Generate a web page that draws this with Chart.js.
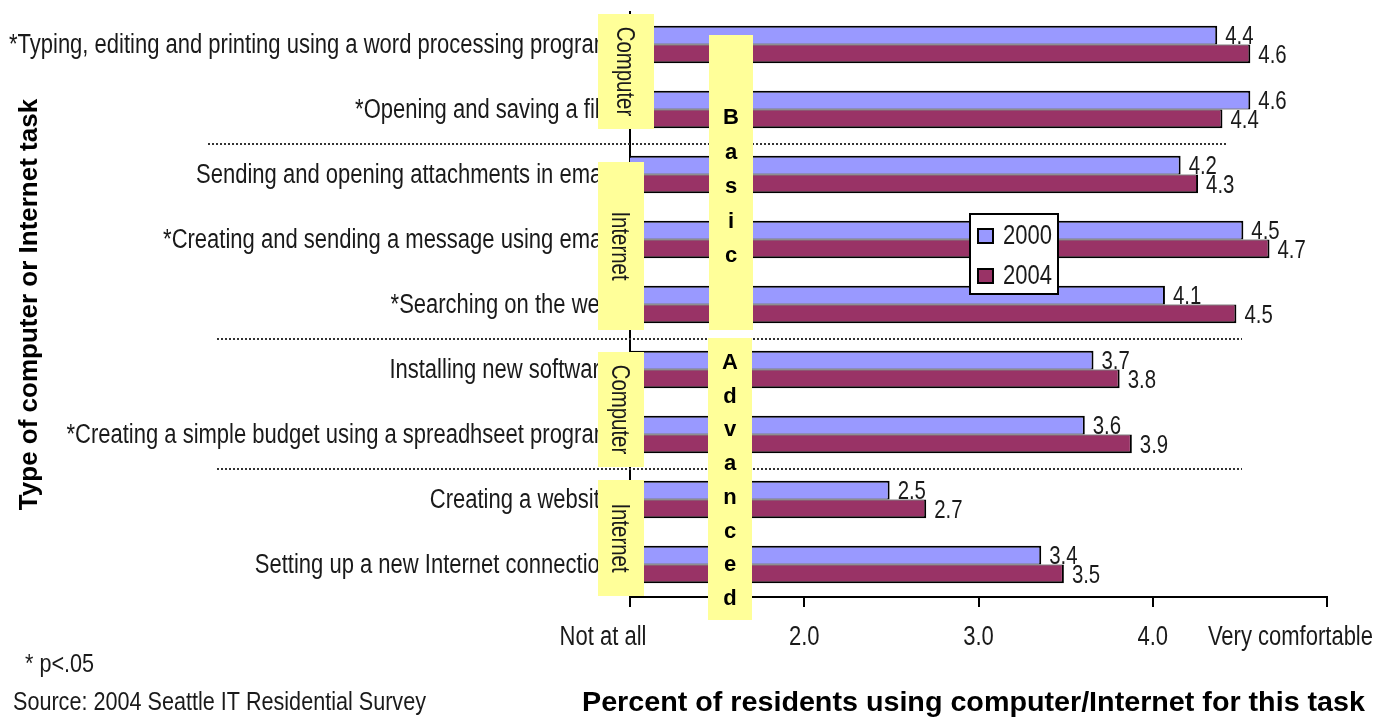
<!DOCTYPE html>
<html>
<head>
<meta charset="utf-8">
<script src="https://cdn.jsdelivr.net/npm/chart.js@4.4.1/dist/chart.umd.min.js"></script>
<style>
  html, body { margin: 0; padding: 0; background: #fff; }
  #wrap { width: 1385px; height: 717px; position: relative; }
</style>
</head>
<body>
<div id="wrap"><canvas id="taskChart"></canvas></div>
<script>
const tasks = [
    '*Typing, editing and printing using a word processing program',
    '*Opening and saving a file',
    'Sending and opening attachments in email',
    '*Creating and sending a message using email',
    '*Searching on the web',
    'Installing new software',
    '*Creating a simple budget using a spreadhseet program',
    'Creating a website',
    'Setting up a new Internet connection'
];
const years = ['2000', '2004'];
const scores2000 = [4.37, 4.56, 4.16, 4.52, 4.07, 3.66, 3.61, 2.49, 3.36];
const scores2004 = [4.56, 4.40, 4.26, 4.67, 4.48, 3.81, 3.88, 2.70, 3.49];
const tickLabels = ['Not at all', '2.0', '3.0', '4.0', 'Very comfortable'];
const xTitle = 'Percent of residents using computer/Internet for this task';

const FONT = '"Liberation Sans", Arial, sans-serif';
const TEXT = '#1a1a1a';
const SQUEEZE = 0.815; // no narrow face installed, so squeeze the regular one

function narrowText(ctx, text, x, y, size, align, rotate) {
    ctx.save();
    ctx.translate(x, y);
    if (rotate) ctx.rotate(rotate);
    ctx.scale(SQUEEZE, 1);
    ctx.font = size + 'px ' + FONT;
    ctx.fillStyle = TEXT;
    ctx.textAlign = align;
    ctx.textBaseline = 'middle';
    ctx.fillText(text, 0, 0);
    ctx.restore();
}

function drawSideLabel(ctx, text, x, y, w, h) {
    ctx.fillStyle = '#ffff99';
    ctx.fillRect(x, y, w, h);
    narrowText(ctx, text, x + w / 2 - 2, y + h / 2, 25, 'center', Math.PI / 2);
}

function drawStacked(ctx, text, x, y, w, h, firstY, step) {
    ctx.fillStyle = '#ffff99';
    ctx.fillRect(x, y, w, h);
    ctx.font = 'bold 22px ' + FONT;
    ctx.fillStyle = '#000';
    ctx.textAlign = 'center';
    ctx.textBaseline = 'middle';
    text.split('').forEach((c, i) => ctx.fillText(c, x + w / 2, firstY + i * step));
}

const overlay = {
    id: 'overlay',
    afterDatasetsDraw(chart) {
        const ctx = chart.ctx;
        const ys = chart.scales.y;
        ctx.save();

        // task labels
        chart.data.labels.forEach((t, i) => {
            narrowText(ctx, t, ys.right - 18, ys.getPixelForValue(i) + 1, 27, 'right');
        });

        // value labels
        chart.data.datasets.forEach((ds, i) => {
            chart.getDatasetMeta(i).data.forEach((bar, j) => {
                narrowText(ctx, ds.data[j].toFixed(1), bar.x + 8, bar.y + 2, 25, 'left');
            });
        });

        // dotted group separators
        ctx.strokeStyle = '#333';
        ctx.lineWidth = 2;
        ctx.setLineDash([2, 2]);
        [[1, 208, 1226], [4, 217, 1242], [6, 217, 1242]].forEach(s => {
            const yy = Math.round((ys.getPixelForValue(s[0]) + ys.getPixelForValue(s[0] + 1)) / 2) + 2;
            ctx.beginPath();
            ctx.moveTo(s[1], yy);
            ctx.lineTo(s[2], yy);
            ctx.stroke();
        });
        ctx.setLineDash([]);

        drawSideLabel(ctx, 'Computer', 598, 14, 56, 115);
        drawSideLabel(ctx, 'Internet', 598, 162, 46, 168);
        drawSideLabel(ctx, 'Computer', 598, 352, 46, 115);
        drawSideLabel(ctx, 'Internet', 598, 480, 46, 116);
        drawStacked(ctx, 'Basic', 709, 35, 44, 295, 118, 34.5);
        drawStacked(ctx, 'Advanced', 708, 338, 44, 282, 363, 33.7);

        ctx.restore();
    },
    afterDraw(chart) {
        const ctx = chart.ctx;
        const xs = chart.scales.x;
        ctx.save();

        // x tick labels
        tickLabels.forEach((t, i) => {
            const px = xs.getPixelForValue(i + 1);
            if (i === 0) {
                narrowText(ctx, t, px - 27, xs.top + 41, 27, 'center');
            } else if (i === tickLabels.length - 1) {
                narrowText(ctx, t, chart.width - 12, xs.top + 41, 27, 'right');
            } else {
                narrowText(ctx, t, px, xs.top + 41, 27, 'center');
            }
        });

        // x axis title, wider than the plot area so drawn here
        ctx.save();
        ctx.font = 'bold 28px ' + FONT;
        const sx = 783 / ctx.measureText(xTitle).width;
        ctx.translate((xs.left + xs.right) / 2 - 5, 703);
        ctx.scale(sx, 1);
        ctx.fillStyle = '#000';
        ctx.textAlign = 'center';
        ctx.textBaseline = 'middle';
        ctx.fillText(xTitle, 0, 0);
        ctx.restore();

        // legend
        ctx.fillStyle = '#fff';
        ctx.fillRect(970, 214, 88, 80);
        ctx.strokeStyle = '#000';
        ctx.lineWidth = 2;
        ctx.strokeRect(970, 214, 88, 80);
        chart.data.datasets.forEach((ds, i) => {
            const sy = 229 + i * 40;
            ctx.fillStyle = ds.backgroundColor;
            ctx.fillRect(978, sy, 15, 14);
            ctx.strokeRect(978, sy, 15, 14);
            narrowText(ctx, ds.label, 1003, sy + 8, 27, 'left');
        });

        // notes
        narrowText(ctx, '* p<.05', 25, 665, 26.5, 'left');
        narrowText(ctx, 'Source: 2004 Seattle IT Residential Survey', 13, 703, 26.5, 'left');
        ctx.restore();
    }
};

const ctx = document.getElementById('taskChart').getContext('2d');
new Chart(ctx, {
    type: 'bar',
    data: {
        labels: tasks,
        datasets: [{
            label: years[0],
            data: scores2000,
            backgroundColor: '#9999ff',
            borderColor: '#000',
            borderWidth: { top: 2, right: 2, bottom: 1, left: 0 },
            borderSkipped: false,
            categoryPercentage: 0.58,
            barPercentage: 1
        }, {
            label: years[1],
            data: scores2004,
            backgroundColor: '#993366',
            borderColor: '#000',
            borderWidth: { top: 1, right: 2, bottom: 2, left: 0 },
            borderSkipped: false,
            categoryPercentage: 0.58,
            barPercentage: 1
        }]
    },
    options: {
        indexAxis: 'y',
        responsive: true,
        maintainAspectRatio: false,
        animation: false,
        layout: { padding: { top: 12, right: 58, left: 0, bottom: 0 } },
        plugins: { legend: { display: false }, tooltip: { enabled: false } },
        scales: {
            x: {
                min: 1,
                max: 5,
                ticks: { stepSize: 1, display: false },
                grid: { drawOnChartArea: false, color: '#000', lineWidth: 2, tickLength: 10 },
                border: { color: '#000', width: 2 },
                afterFit(s) { s.height = 120; }
            },
            y: {
                ticks: { display: false },
                grid: { display: false, drawTicks: false },
                border: { color: '#000', width: 2 },
                title: {
                    display: true,
                    text: 'Type of computer or Internet task',
                    color: '#000',
                    font: { family: FONT, size: 26, weight: 'bold', lineHeight: 1 },
                    padding: { top: 17, bottom: 0 }
                },
                afterFit(s) { s.width = 630; }
            }
        }
    },
    plugins: [overlay]
});
</script>
</body>
</html>
